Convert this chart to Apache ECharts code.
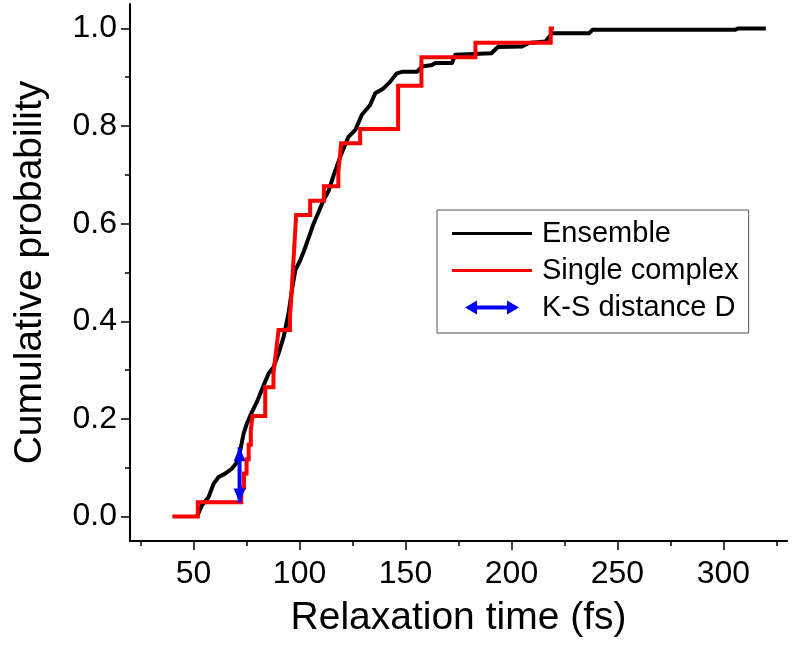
<!DOCTYPE html>
<html>
<head>
<meta charset="utf-8">
<script src="https://cdn.jsdelivr.net/npm/echarts@6/dist/echarts.min.js"></script>
<style>
html,body{margin:0;padding:0;background:#fff;}
#chart{width:793px;height:647px;}
</style>
</head>
<body>
<div id="chart"></div>
<script>
// ---- data ----
const xLabelValues = [50, 100, 150, 200, 250, 300];
const xMinorTicks = [25, 75, 125, 175, 225, 275, 325];
const yLabelValues = [0, 0.2, 0.4, 0.6, 0.8, 1.0];
const yMinorTicks = [0.1, 0.3, 0.5, 0.7, 0.9];

// Ensemble cumulative distribution (relaxation time fs, probability)
const ensembleX = [51.6, 53.9, 57.1, 59.4, 61.8, 64.9, 68.0, 70.4, 72.0, 73.6, 75.1, 77.5, 79.9, 82.2, 85.4, 87.7, 90.1, 92.5, 94.8, 96.4, 98.0, 100.3, 101.9, 104.2, 106.6, 109.0, 111.3, 113.7, 116.0, 119.2, 123.1, 126.3, 129.4, 133.3, 135.7, 139.6, 142.8, 145.9, 148.3, 155.4, 157.8, 162.5, 164.1, 171.9, 173.5, 190.5, 193.6, 205.0, 208.2, 216.0, 219.2, 236.6, 238.2, 305.5, 307.0, 320.0];
const ensembleY = [0, 0.023, 0.040, 0.067, 0.081, 0.088, 0.098, 0.111, 0.135, 0.170, 0.190, 0.214, 0.235, 0.260, 0.293, 0.306, 0.334, 0.368, 0.416, 0.464, 0.505, 0.525, 0.542, 0.570, 0.600, 0.624, 0.648, 0.667, 0.698, 0.737, 0.778, 0.792, 0.823, 0.843, 0.867, 0.877, 0.891, 0.908, 0.911, 0.911, 0.922, 0.925, 0.929, 0.929, 0.946, 0.949, 0.962, 0.963, 0.970, 0.973, 0.990, 0.990, 0.997, 0.997, 1.000, 1.000];

// Single complex empirical CDF (34 samples): step positions and counts
const singleN = 34;
const singleX = [40, 52, 72.5, 73.8, 75, 76, 77, 77.8, 83.8, 87.7, 88.5, 89.3, 90.1, 95.5, 96, 96.4, 96.8, 97.2, 97.6, 98, 98.4, 105, 111.5, 118.3, 119, 119.6, 128.6, 146.5, 157.5, 183, 218.5, 220];
const singleCount = [0, 1, 2, 3, 4, 5, 6, 7, 9, 10, 11, 12, 13, 14, 15, 16, 17, 18, 19, 20, 21, 22, 23, 24, 25, 26, 27, 30, 32, 33, 34, 34];

// K-S distance D
const ksX = 71.7;
const ksLow = 0.029;
const ksHigh = 0.142;

// ---- chart ----
const FONT = 'Liberation Sans, Arial, sans-serif';
const ensembleData = ensembleX.map((x, i) => [x, ensembleY[i]]);
const singleData = singleX.map((x, i) => [x, singleCount[i] / singleN]);
const ksData = [
  {value: [ksX, ksLow], symbolRotate: 180, symbolOffset: [0, -7]},
  {value: [ksX, ksHigh], symbolRotate: 0, symbolOffset: [0, 7]}
];
const lineIcon = 'path://M0,0 L80,0 L80,3 L0,3 Z';

const chart = echarts.init(document.getElementById('chart'), null, {renderer: 'canvas'});
chart.setOption({
  animation: false,
  backgroundColor: '#fff',
  grid: {left: 130, right: 6, top: 4, bottom: 106, containLabel: false},
  legend: {
    orient: 'vertical', left: 437, top: 210,
    itemWidth: 80, itemHeight: 14, itemGap: 8,
    padding: [9, 10, 11, 15],
    borderColor: '#555', borderWidth: 1, borderRadius: 0,
    textStyle: {fontSize: 29, color: '#000', fontFamily: FONT, padding: [0, 0, 0, 5]},
    data: [
      {name: 'Ensemble', icon: lineIcon},
      {name: 'Single complex', icon: lineIcon},
      {name: 'K-S distance D', icon: 'path://M0,7 L12,0 L12,5 L42,5 L42,0 L54,7 L42,14 L42,9 L12,9 L12,14 Z'}
    ]
  },
  xAxis: [
    {
      type: 'value', min: 20, max: 330, position: 'bottom',
      axisLine: {show: true, onZero: false, lineStyle: {color: '#000', width: 2}},
      axisTick: {show: true, customValues: xLabelValues, length: 9, lineStyle: {color: '#000', width: 1.5}},
      axisLabel: {customValues: xLabelValues, fontSize: 32, color: '#000', fontFamily: FONT, margin: 17},
      splitLine: {show: false},
      name: 'Relaxation time (fs)', nameLocation: 'middle', nameGap: 58,
      nameTextStyle: {fontSize: 39, color: '#000', fontFamily: FONT}
    },
    {
      type: 'value', min: 20, max: 330, position: 'bottom',
      axisLine: {show: false, onZero: false},
      axisTick: {show: true, customValues: xMinorTicks, length: 5, lineStyle: {color: '#000', width: 1.5}},
      axisLabel: {show: false},
      splitLine: {show: false}
    }
  ],
  yAxis: [
    {
      type: 'value', min: -0.05, max: 1.05, position: 'left',
      axisLine: {show: true, onZero: false, lineStyle: {color: '#000', width: 2}},
      axisTick: {show: true, customValues: yLabelValues, length: 9, lineStyle: {color: '#000', width: 1.5}},
      axisLabel: {customValues: yLabelValues, fontSize: 32, color: '#000', fontFamily: FONT, margin: 13,
        formatter: v => Number(v).toFixed(1)},
      splitLine: {show: false},
      name: 'Cumulative probability', nameLocation: 'middle', nameGap: 80,
      nameTextStyle: {fontSize: 39, color: '#000', fontFamily: FONT}
    },
    {
      type: 'value', min: -0.05, max: 1.05, position: 'left',
      axisLine: {show: false, onZero: false},
      axisTick: {show: true, customValues: yMinorTicks, length: 5, lineStyle: {color: '#000', width: 1.5}},
      axisLabel: {show: false},
      splitLine: {show: false}
    }
  ],
  series: [
    {
      name: 'Ensemble', type: 'line', xAxisIndex: 0, yAxisIndex: 0,
      data: ensembleData, showSymbol: false, symbol: 'none',
      itemStyle: {color: '#000'},
      lineStyle: {color: '#000', width: 4, join: 'round'}
    },
    {
      name: 'Single complex', type: 'line', step: 'end', xAxisIndex: 0, yAxisIndex: 0,
      data: singleData, showSymbol: false, symbol: 'none',
      itemStyle: {color: '#ff0000'},
      lineStyle: {color: '#ff0000', width: 4, join: 'miter'}
    },
    {
      name: 'K-S distance D', type: 'line', xAxisIndex: 0, yAxisIndex: 0,
      data: ksData, symbol: 'triangle', symbolSize: [12, 14], showSymbol: true,
      itemStyle: {color: '#0000ff'},
      lineStyle: {color: '#0000ff', width: 4},
      z: 5
    }
  ]
});
</script>
</body>
</html>
